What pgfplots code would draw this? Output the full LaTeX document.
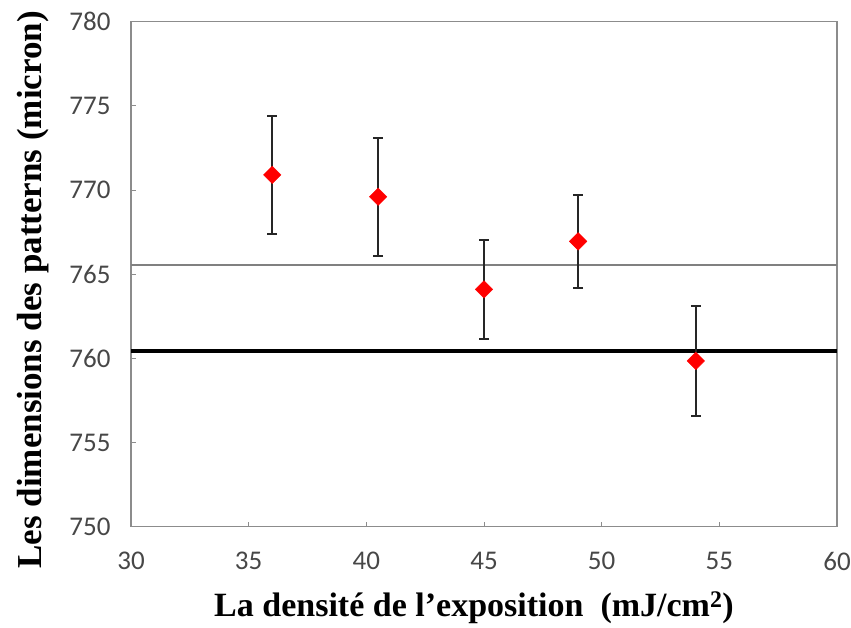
\documentclass[border=0pt]{standalone}
\usepackage{pgfplots}
\pgfplotsset{compat=1.18}
\usepackage{fontspec}
\setmainfont{Liberation Serif}
\newfontfamily\tickfont{Carlito}
\begin{document}
\begin{tikzpicture}
\path[use as bounding box] (-131pt,-100.3pt) rectangle (720pt,526.7pt);
\begin{axis}[
  scale only axis, width=706pt, height=505pt,
  xmin=30, xmax=60, ymin=750, ymax=780,
  xtick={30,35,...,60}, ytick={750,755,...,780},
  tick align=inside, tick pos=left, major tick length=5pt,
  axis line style={black!45, line width=1.3pt},
  tick style={black!45, line width=1pt},
  /pgf/number format/assume math mode=true,
  ticklabel style={font=\fontsize{27}{27}\selectfont\tickfont, text=black!72},
  yticklabel style={xshift=-17pt},
  xticklabel style={yshift=-22pt},
  xlabel={La densité de l’exposition\ \ (mJ/cm\textsuperscript{2})},
  ylabel={Les dimensions des patterns (micron)},
  label style={font=\fontsize{34}{34}\selectfont\bfseries},
  xlabel style={at={(axis description cs:0.5,0)}, anchor=center, yshift=-81pt, xshift=-10pt},
  ylabel style={at={(axis description cs:-0.139,0.469)}, anchor=center, font=\fontsize{35}{35}\selectfont\bfseries},
  clip=false,
]
\addplot[black!50, line width=2.8pt, no marks] coordinates {(30,765.55) (60,765.55)};
\addplot[black, line width=3.5pt, no marks] coordinates {(30,760.45) (60,760.45)};
\addplot[only marks, mark=square*, mark size=6.2pt, mark options={rotate=45, fill=red, draw=red},
  error bars/.cd, y dir=both, y explicit,
  error bar style={black!85, line width=2.2pt},
  error mark options={rotate=90, mark size=5pt, line width=2.2pt, black!85}]
  coordinates {
  (36,770.9) +- (0,3.5)
  (40.5,769.6) +- (0,3.5)
  (45,764.1) +- (0,2.95)
  (49,766.95) +- (0,2.75)
  (54,759.85) +- (0,3.25)
  };
\end{axis}
\end{tikzpicture}
\end{document}
